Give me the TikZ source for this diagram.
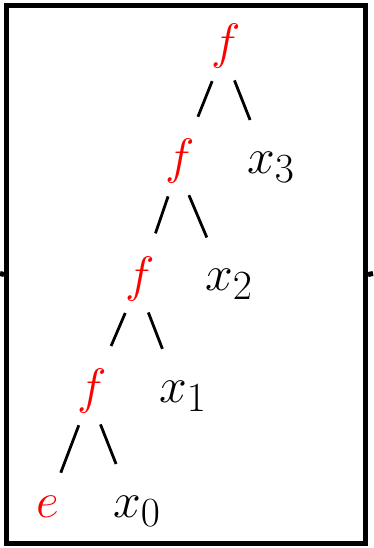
\documentclass[tikz,border=0pt]{standalone}
\usetikzlibrary{positioning}

\begin{document}
\begin{tikzpicture}[x=1pt,y=-1pt,
    term/.style={inner sep=0pt,anchor=base,font=\Huge,scale=2},
    op/.style={term,text=red},
    ledge/.style={line width=2.8pt,shorten <=13pt,shorten >=24pt},
    redge/.style={line width=2.8pt,shorten <=23pt,shorten >=57pt},
    stub/.style={line width=5pt}]
    \useasboundingbox (0,0) rectangle (373,548);
    \node[draw,line width=5pt,minimum width=359pt,minimum height=538pt,inner sep=0pt]
      (frame) at (186,274.5) {};
    \node[op] (f1) at (226,59) {$f$};
    \node[op] (f2) at (180,174) {$f$};
    \node[op] (f3) at (140,291) {$f$};
    \node[op] (f4) at (92,403) {$f$};
    \node[op] (e) at (48,517) {$e$};
    \node[term] (x3) at (271,173) {$x_3$};
    \node[term] (x2) at (229,290) {$x_2$};
    \node[term] (x1) at (183,402) {$x_1$};
    \node[term] (x0) at (137,517) {$x_0$};
    \draw[ledge] (f1)--(f2);
    \draw[ledge] (f2)--(f3);
    \draw[ledge] (f3)--(f4);
    \draw[ledge] (f4)--(e);
    \draw[redge] (f1.base)--(x3.base);
    \draw[redge] (f2.base)--(x2.base);
    \draw[redge] (f3.base)--(x1.base);
    \draw[redge] (f4.base)--(x0.base);
    \coordinate (inl) at (0,273.5);
    \coordinate (outr) at (373,273.5);
    \draw[stub] (inl)--(frame.west);
    \draw[stub] (frame.east)--(outr);
  \end{tikzpicture}
\end{document}
